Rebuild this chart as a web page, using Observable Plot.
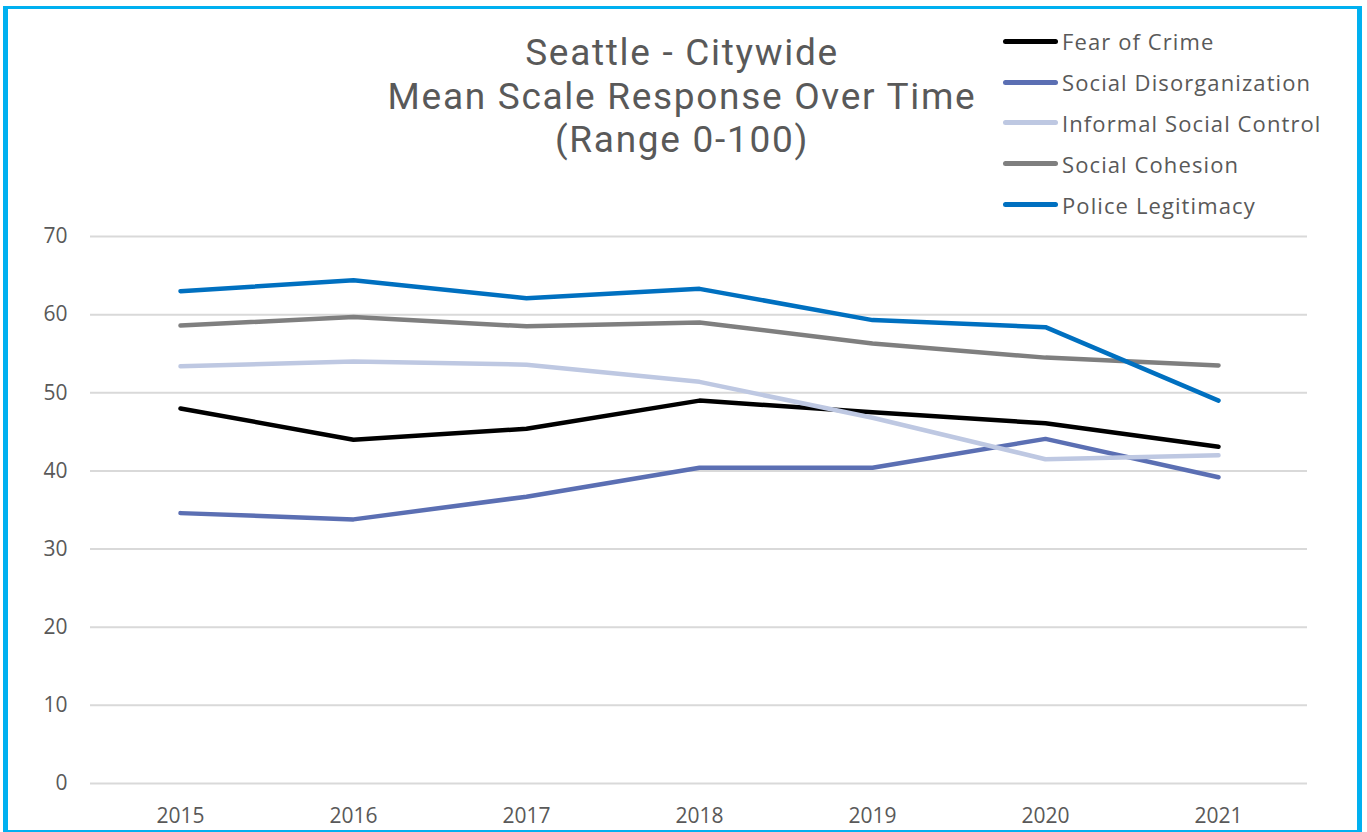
<!DOCTYPE html>
<html>
<head>
<meta charset="utf-8">
<script src="https://cdn.jsdelivr.net/npm/d3@7"></script>
<script src="https://cdn.jsdelivr.net/npm/@observablehq/plot@0.6"></script>
<style>
  html, body { margin: 0; padding: 0; background: #fff; }
  #wrap { position: relative; width: 1367px; height: 832px; overflow: hidden; font-family: "Open Sans", sans-serif; }
  #frame { position: absolute; left: 3px; top: 6px; width: 1359px; height: 829px; border: 5px solid #00b0f0; border-top-width: 3px; box-sizing: border-box; pointer-events: none; }
  #title { position: absolute; left: 332px; width: 700px; top: 31px; text-align: center; color: #595959; font-family: Roboto, sans-serif; font-size: 37px; line-height: 43.5px; letter-spacing: 1.7px; font-weight: 400; white-space: nowrap; }
  #legend { position: absolute; left: 1003px; top: 21px; color: #595959; font-size: 22px; letter-spacing: 1.1px; white-space: nowrap; }
  .item { height: 40.8px; display: flex; align-items: center; }
  .sw { width: 55px; height: 5px; border-radius: 3px; margin-right: 4px; flex: none; }
</style>
</head>
<body>
<div id="wrap">
  <div id="chart"></div>
  <div id="title"></div>
  <div id="legend"></div>
  <div id="frame"></div>
</div>
<script>
const years = ["2015", "2016", "2017", "2018", "2019", "2020", "2021"];
const seriesNames = ["Fear of Crime", "Social Disorganization", "Informal Social Control", "Social Cohesion", "Police Legitimacy"];
const seriesColors = ["#000000", "#5b6fb3", "#bec8e2", "#7f7f7f", "#0070c0"];
const fearOfCrime = [48.0, 44.0, 45.4, 49.0, 47.5, 46.1, 43.1];
const socialDisorganization = [34.6, 33.8, 36.7, 40.4, 40.4, 44.1, 39.2];
const informalSocialControl = [53.4, 54.0, 53.6, 51.4, 46.8, 41.5, 42.0];
const socialCohesion = [58.6, 59.7, 58.5, 59.0, 56.3, 54.5, 53.5];
const policeLegitimacy = [63.0, 64.4, 62.1, 63.3, 59.3, 58.4, 49.0];
const yTicks = [0, 10, 20, 30, 40, 50, 60, 70];
const titleLines = ["Seattle - Citywide", "Mean Scale Response Over Time", "(Range 0-100)"];

const allValues = [fearOfCrime, socialDisorganization, informalSocialControl, socialCohesion, policeLegitimacy];
const rows = [];
seriesNames.forEach((name, i) => {
  years.forEach((yr, j) => rows.push({series: name, year: yr, value: allValues[i][j]}));
});

const plot = Plot.plot({
  width: 1367,
  height: 832,
  marginLeft: 90,
  marginRight: 60,
  marginTop: 236,
  marginBottom: 49,
  style: {fontFamily: "'Open Sans', sans-serif", fontSize: "21px", color: "#595959", background: "transparent"},
  x: {type: "point", domain: years, padding: 0.5, label: null},
  y: {domain: [0, 70], label: null},
  color: {domain: seriesNames, range: seriesColors},
  marks: [
    Plot.ruleY(yTicks, {stroke: "#d9d9d9", strokeWidth: 2}),
    Plot.axisY(yTicks, {tickSize: 0, tickPadding: 23, fontSize: 21, fill: "#595959", label: null}),
    Plot.axisX(years, {tickSize: 0, tickPadding: 25, fontSize: 21, fill: "#595959", label: null}),
    Plot.line(rows, {x: "year", y: "value", z: "series", stroke: "series", strokeWidth: 4.5, strokeLinecap: "round", strokeLinejoin: "round"})
  ]
});
document.getElementById("chart").appendChild(plot);

const t = document.getElementById("title");
titleLines.forEach(s => { const d = document.createElement("div"); d.textContent = s; t.appendChild(d); });

const lg = document.getElementById("legend");
seriesNames.forEach((name, i) => {
  const it = document.createElement("div"); it.className = "item";
  const sw = document.createElement("div"); sw.className = "sw"; sw.style.background = seriesColors[i];
  const tx = document.createElement("span"); tx.textContent = name;
  it.appendChild(sw); it.appendChild(tx); lg.appendChild(it);
});
</script>
</body>
</html>
